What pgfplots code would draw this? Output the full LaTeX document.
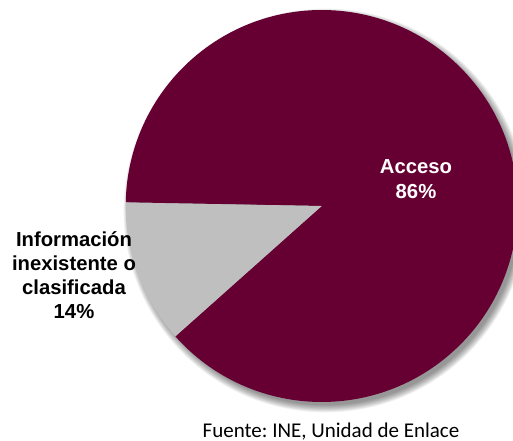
\documentclass[border=0pt]{standalone}
\usepackage{pgfplots}
\pgfplotsset{compat=1.18}
\usepackage{pgfplotstable}
\usepackage{fontspec}
\setmainfont{Liberation Sans}
\newfontfamily\calibri{Carlito}
\definecolor{pmaroon}{HTML}{660033}
\definecolor{pgray}{HTML}{BFBFBF}
\frenchspacing

% slices: label share (%), start and end angle as drawn in the reference
\pgfplotstableread{
slice share start end
Acceso 86 221.7 538.9
Informacion 14 179.0 221.7
}\slices
\pgfplotstablegetelem{0}{start}\of\slices \let\aStart\pgfplotsretval
\pgfplotstablegetelem{0}{end}\of\slices \let\aEnd\pgfplotsretval
\pgfplotstablegetelem{1}{start}\of\slices \let\bStart\pgfplotsretval
\pgfplotstablegetelem{1}{end}\of\slices \let\bEnd\pgfplotsretval

\begin{document}
\begin{tikzpicture}
\begin{axis}[
  x=0.75pt, y=0.75pt,
  xmin=0, xmax=513, ymin=0, ymax=441,
  hide axis, clip=true,
]
\path (axis cs:0,0) rectangle (axis cs:513,441);
% soft drop shadow
\pgfplotsinvokeforeach{0,...,9}{
  \fill[black, opacity=0.05] (axis cs:325.5,230.5) circle[radius={146pt+#1*0.6pt}];
}
% slices
\edef\drawslices{%
\noexpand\fill[pmaroon] (axis cs:321.7,235) -- ++(\aStart:147pt)
  arc[start angle=\aStart, end angle=\aEnd, radius=147pt] -- cycle;
\noexpand\fill[pgray] (axis cs:321.7,235) -- ++(\bStart:147pt)
  arc[start angle=\bStart, end angle=\bEnd, radius=147pt] -- cycle;
}
\drawslices
% labels
\node[anchor=base, inner sep=0, text=white, font=\bfseries\fontsize{15.2}{18}\selectfont] at (axis cs:416,267.7) {Acceso};
\node[anchor=base, inner sep=0, text=white, font=\bfseries\fontsize{15.2}{18}\selectfont] at (axis cs:416,242.7) {86\%};
\node[anchor=base, inner sep=0, font=\bfseries\fontsize{15.2}{18}\selectfont] at (axis cs:74,194.3) {Información};
\node[anchor=base, inner sep=0, font=\bfseries\fontsize{15.2}{18}\selectfont] at (axis cs:74,170.5) {inexistente o};
\node[anchor=base, inner sep=0, font=\bfseries\fontsize{15.2}{18}\selectfont] at (axis cs:74,146.8) {clasificada};
\node[anchor=base, inner sep=0, font=\bfseries\fontsize{15.2}{18}\selectfont] at (axis cs:74,122.7) {14\%};
\node[anchor=base, inner sep=0, font=\calibri\fontsize{15.75}{18}\selectfont] at (axis cs:331,3.7) {Fuente: INE, Unidad de Enlace};
\end{axis}
\end{tikzpicture}
\end{document}
